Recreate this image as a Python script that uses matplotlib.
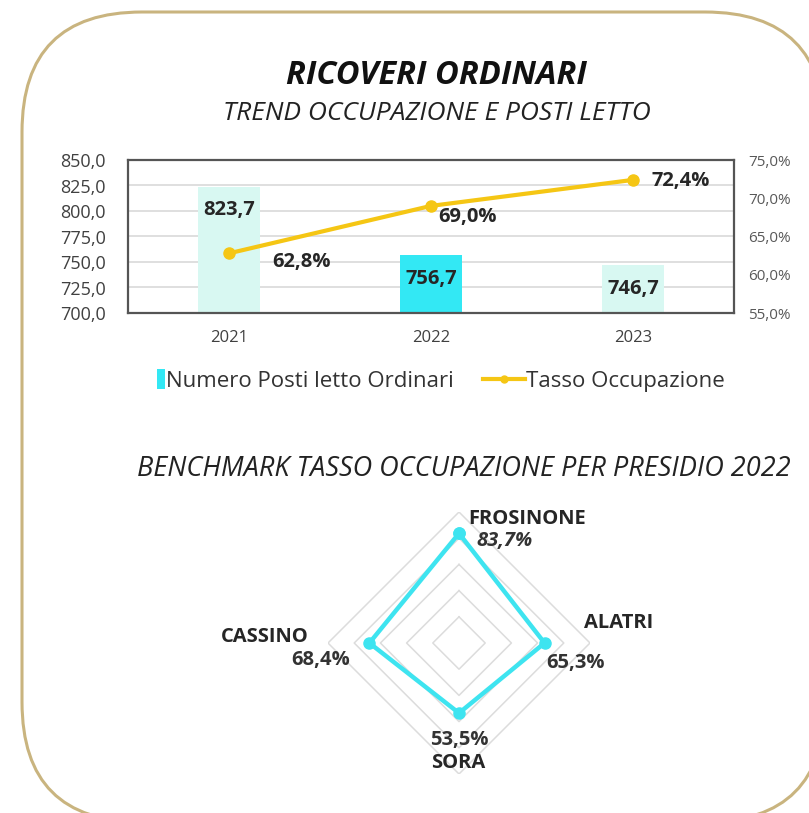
import numpy as np
import matplotlib
matplotlib.use("Agg")
import matplotlib.pyplot as plt
from matplotlib.patches import FancyBboxPatch, Patch, Rectangle
from matplotlib.lines import Line2D
from matplotlib.legend_handler import HandlerPatch
from matplotlib.ticker import FuncFormatter

# ---------------- data ----------------
years = ["2021", "2022", "2023"]
posti_letto = [823.7, 756.7, 746.7]
tasso_occupazione = [62.8, 69.0, 72.4]
left_ticks = [700, 725, 750, 775, 800, 825, 850]
right_ticks = [55, 60, 65, 70, 75]

presidi = ["FROSINONE", "ALATRI", "SORA", "CASSINO"]
tasso_presidio = [83.7, 65.3, 53.5, 68.4]
radar_rings = [20, 40, 60, 80, 100]

FONT = "Open Sans"
plt.rcParams["font.family"] = [FONT, "DejaVu Sans"]

W, H = 809, 813
fig = plt.figure(figsize=(W / 100, H / 100), dpi=100)
fig.patch.set_facecolor("white")

# background axes in pixel coordinates (frame)
bg = fig.add_axes([0, 0, 1, 1])
bg.set_zorder(0)
bg.set_xlim(0, W)
bg.set_ylim(H, 0)
bg.axis("off")
frame = FancyBboxPatch((22, 12), 803, 810,
                       boxstyle="round,pad=0,rounding_size=120",
                       fc="white", ec="#c9b47f", lw=2.2)
bg.add_patch(frame)

# overlay axes for free texts
fg = fig.add_axes([0, 0, 1, 1])
fg.set_zorder(10)
fg.set_xlim(0, W)
fg.set_ylim(H, 0)
fg.axis("off")
fg.patch.set_alpha(0)

def fmt_it(v, dec=1):
    return f"{v:.{dec}f}".replace(".", ",")

# titles
fg.text(436, 76, "RICOVERI ORDINARI", ha="center", va="center",
        fontsize=23.5, fontweight="bold", style="italic", color="#111111")
fg.text(437, 114, "TREND OCCUPAZIONE E POSTI LETTO", ha="center", va="center",
        fontsize=19, style="italic", color="#222222")
fg.text(464, 469, "BENCHMARK TASSO OCCUPAZIONE PER PRESIDIO 2022",
        ha="center", va="center", fontsize=19.5, style="italic", color="#222222")

# ---------------- combo chart ----------------
L, R, T, B = 128, 734, 160, 313
ax = fig.add_axes([L / W, 1 - B / H, (R - L) / W, (B - T) / H])
ax.set_zorder(2)
ax.patch.set_alpha(0)
x = np.arange(len(years))
bar_colors = ["#d8f8f2", "#33e8f4", "#d8f8f2"]
bars = ax.bar(x, posti_letto, width=0.31, color=bar_colors, zorder=2)
ax.set_xlim(-0.5, len(years) - 0.5)
ax.set_ylim(left_ticks[0], left_ticks[-1])
ax.set_yticks(left_ticks)
ax.yaxis.set_major_formatter(FuncFormatter(lambda v, p: fmt_it(v)))
ax.set_xticks(x)
ax.set_xticklabels(years)
ax.tick_params(axis="y", length=0, pad=16, labelsize=13, labelcolor="#404040")
ax.tick_params(axis="x", length=0, pad=12, labelsize=12, labelcolor="#404040")
ax.grid(axis="y", color="#d9d9d9", lw=1.2, zorder=0)
ax.set_axisbelow(True)
for s in ax.spines.values():
    s.set_color("#555555")
    s.set_linewidth(1.6)

for xi, v in zip(x, posti_letto):
    ax.annotate(fmt_it(v), (xi, v), xytext=(0, -17), textcoords="offset points",
                ha="center", va="center", fontsize=14.5, fontweight="bold",
                color="#262626", zorder=5)

ax2 = ax.twinx()
ax2.set_ylim(right_ticks[0], right_ticks[-1])
ax2.set_yticks(right_ticks)
ax2.yaxis.set_major_formatter(FuncFormatter(lambda v, p: fmt_it(v) + "%"))
ax2.tick_params(axis="y", length=0, pad=10, labelsize=11, labelcolor="#595959")
for s in ax2.spines.values():
    s.set_visible(False)
line_color = "#f5c614"
ax2.plot(x, tasso_occupazione, color=line_color, lw=3, marker="o", ms=8,
         zorder=4)
line_offsets = [(52, -6), (26, -8), (34, -1)]
for xi, v, off in zip(x, tasso_occupazione, line_offsets):
    ax2.annotate(fmt_it(v) + "%", (xi, v), xytext=off, textcoords="offset points",
                 ha="center", va="center", fontsize=14.5, fontweight="bold",
                 color="#262626")

# legend
def small_square(legend, orig_handle, xdescent, ydescent, width, height, fontsize):
    w = height * 0.55
    return Rectangle((-xdescent + width - w, -ydescent - height * 0.15), w,
                     height * 1.3)

handles = [Patch(facecolor="#33e8f4", edgecolor="none"),
           Line2D([0], [0], color=line_color, lw=3, marker="o", ms=5)]
fig.legend(handles, ["Numero Posti letto Ordinari", "Tasso Occupazione"],
           loc="center", bbox_to_anchor=(424 / W, 1 - 381 / H), ncol=2,
           frameon=False, fontsize=16, handlelength=1.9, handletextpad=0.05,
           columnspacing=1.3, labelcolor="#333333",
           handler_map={Patch: HandlerPatch(patch_func=small_square)})

# ---------------- radar ----------------
cx, cy, rad = 459, 643, 131
rax = fig.add_axes([(cx - rad) / W, 1 - (cy + rad) / H, 2 * rad / W, 2 * rad / H],
                   projection="polar")
rax.set_zorder(3)
rax.set_theta_offset(np.pi / 2)
rax.set_theta_direction(-1)
rax.set_ylim(0, radar_rings[-1])
rax.grid(False)
rax.set_xticks([])
rax.set_yticks([])
rax.spines["polar"].set_visible(False)
rax.patch.set_alpha(0)
theta = np.linspace(0, 2 * np.pi, len(presidi), endpoint=False)
tc = np.append(theta, theta[0])
for r in radar_rings:
    rax.plot(tc, [r] * len(tc), color="#dcdcdc", lw=1.1, zorder=1)
vals = np.append(tasso_presidio, tasso_presidio[0])
rax.plot(tc, vals, color="#3ee4f0", lw=3.2, marker="o", ms=8, zorder=3,
         solid_joinstyle="miter")

cat_pos = [(527, 519), (619, 623), (458, 763), (265, 637)]
val_pos = [(505, 541), (576, 663), (459, 740), (321, 660)]
for name, v, cp, vp, i in zip(presidi, tasso_presidio, cat_pos, val_pos, range(4)):
    fg.text(cp[0], cp[1], name, ha="center", va="center", fontsize=14.5,
            fontweight="bold", color="#262626")
    fg.text(vp[0], vp[1], fmt_it(v) + "%", ha="center", va="center",
            fontsize=14.5, fontweight="bold", color="#333333",
            style="italic" if i == 0 else "normal")

fig.savefig("out.png", dpi=100, facecolor="white")
